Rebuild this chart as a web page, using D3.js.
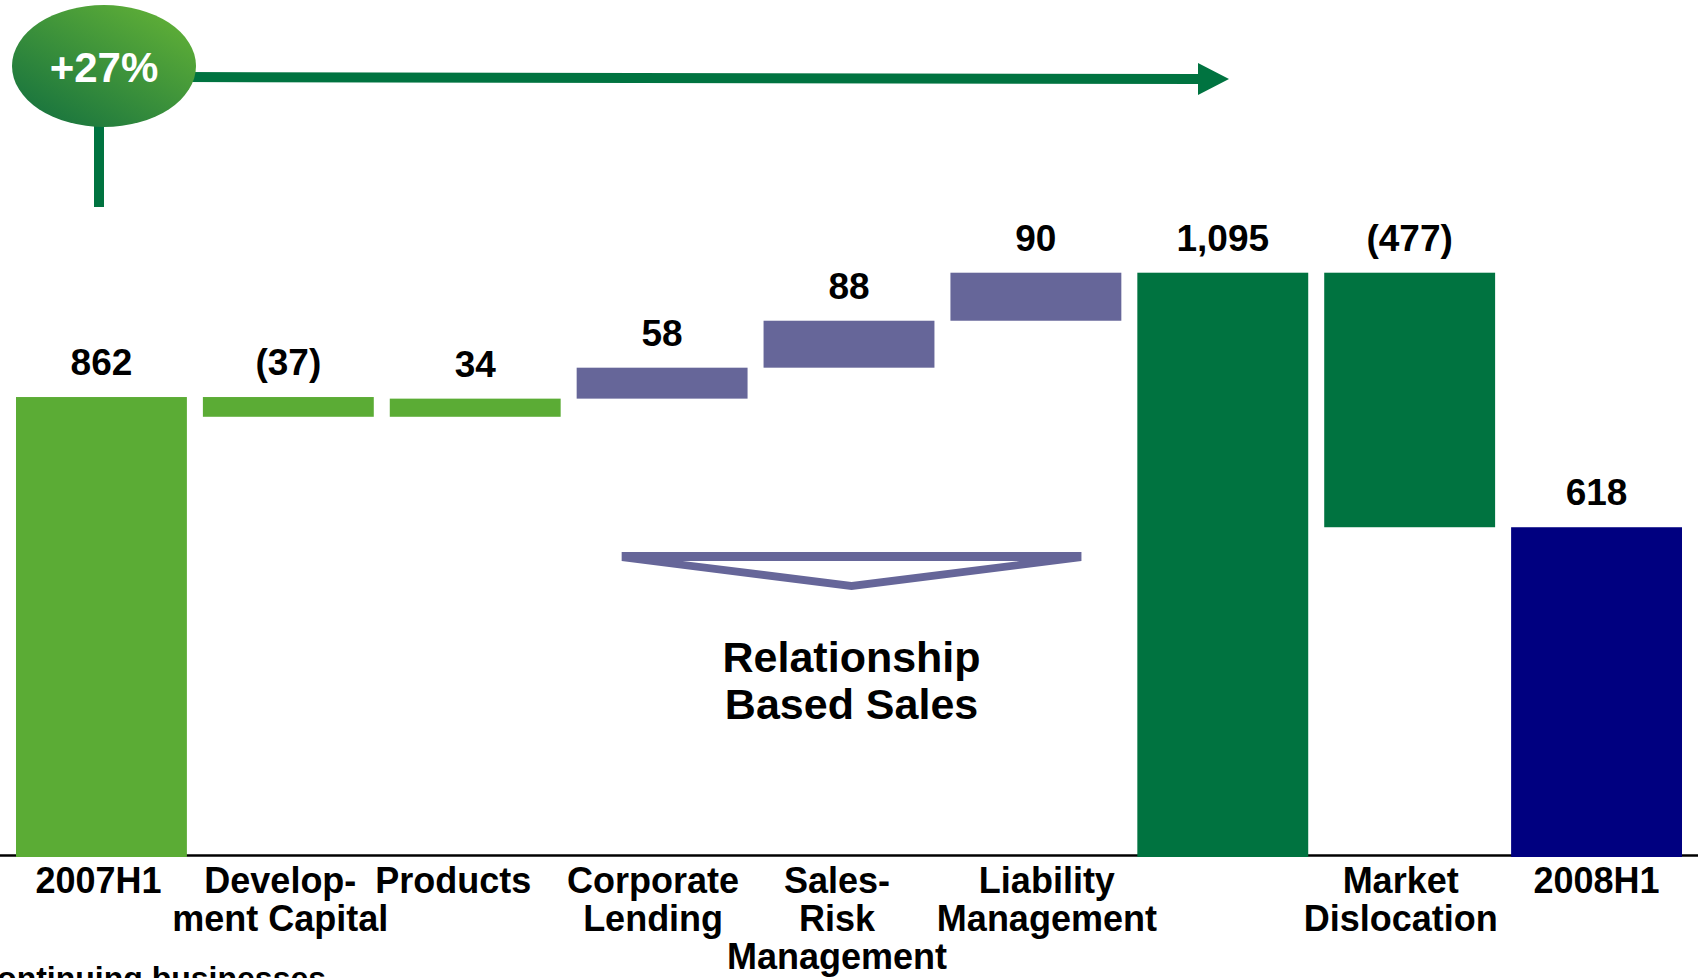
<!DOCTYPE html>
<html>
<head>
<meta charset="utf-8">
<title>Profit bridge 2007H1 to 2008H1</title>
<script src="https://cdn.jsdelivr.net/npm/d3@7/dist/d3.min.js"></script>
<style>
  html, body { margin: 0; padding: 0; background: #ffffff; }
  svg { display: block; }
  text { font-family: "Liberation Sans", Arial, Helvetica, sans-serif; font-weight: bold; }
</style>
</head>
<body>
<svg id="chart" width="1698" height="978"></svg>
<script>
// Bridge categories (line breaks mark the wrapped axis labels)
const categories = [
  "2007H1",
  "Develop-\nment Capital",
  "Products",
  "Corporate\nLending",
  "Sales-\nRisk\nManagement",
  "Liability\nManagement",
  "",
  "Market\nDislocation",
  "2008H1"
];
// Bar values: totals are absolute, the rest are changes
const values = [862, -37, 34, 58, 88, 90, 1095, -477, 618];
const barKinds = ["total", "delta", "delta", "delta", "delta", "delta", "total", "delta", "total"];
const segments = ["start", "other", "other", "rbs", "rbs", "rbs", "subtotal", "dislocation", "end"];
const growthLabel = "+27%";
const groupLabel = ["Relationship", "Based Sales"];
const footnote = "Continuing businesses";

// ---- layout & style ----
const W = 1698, H = 978;
const colours = {
  start: "#5BAC35", other: "#5BAC35",
  rbs: "#666699",
  subtotal: "#007340", dislocation: "#007340",
  end: "#000080"
};
const dark = "#007340";
const labelNudge = [-3, -8, -22, -9, -12, 11, 0, -9, 0];

const svg = d3.select("#chart");

const x = d3.scaleBand()
  .domain(categories)
  .range([16, 1682])
  .paddingInner(0.0856)
  .paddingOuter(0);

const y = d3.scaleLinear()
  .domain([0, 1100])
  .range([857, 857 - 1100 * 0.5336]);

// running totals for the waterfall
let running = 0;
const bars = categories.map((c, i) => {
  let lo, hi;
  if (barKinds[i] === "total") {
    lo = 0; hi = values[i]; running = values[i];
  } else {
    const start = running, end = running + values[i];
    lo = Math.min(start, end); hi = Math.max(start, end);
    running = end;
  }
  return { cat: c, value: values[i], lo, hi, seg: segments[i], i };
});

const fmt = v => v < 0 ? "(" + d3.format(",")(-v) + ")" : d3.format(",")(v);

// baseline
svg.append("line")
  .attr("x1", 0).attr("x2", W)
  .attr("y1", 855.5).attr("y2", 855.5)
  .attr("stroke", "#000").attr("stroke-width", 2.5);

// bars
svg.append("g").selectAll("rect")
  .data(bars)
  .join("rect")
  .attr("x", d => x(d.cat))
  .attr("width", x.bandwidth())
  .attr("y", d => y(d.hi))
  .attr("height", d => y(d.lo) - y(d.hi))
  .attr("fill", d => colours[d.seg]);

// value labels
svg.append("g").selectAll("text")
  .data(bars)
  .join("text")
  .attr("x", d => x(d.cat) + x.bandwidth() / 2)
  .attr("y", d => y(d.hi) - 22)
  .attr("text-anchor", "middle")
  .attr("font-size", 37)
  .attr("fill", "#000")
  .text(d => fmt(d.value));

// category labels
const cl = svg.append("g").selectAll("text")
  .data(bars)
  .join("text")
  .attr("text-anchor", "middle")
  .attr("font-size", 36)
  .attr("fill", "#000")
  .attr("transform", d => `translate(${x(d.cat) + x.bandwidth() / 2 + labelNudge[d.i]},893)`);
cl.selectAll("tspan")
  .data(d => d.cat.split("\n"))
  .join("tspan")
  .attr("x", 0)
  .attr("y", (t, j) => j * 38)
  .text(t => t);

// bracket under the relationship-based bars
const rbs = bars.filter(d => d.seg === "rbs");
const bx0 = x(rbs[0].cat) + 45;
const bx1 = x(rbs[rbs.length - 1].cat) + 131;
const bmid = (bx0 + bx1) / 2;
const bracket = d3.path();
bracket.moveTo(bx0, 552); bracket.lineTo(bx1, 552); bracket.lineTo(bx1, 561);
bracket.lineTo(bmid, 590); bracket.lineTo(bx0, 561); bracket.closePath();
bracket.moveTo(bx0 + 61, 561); bracket.lineTo(bmid, 582); bracket.lineTo(bx1 - 62, 561); bracket.closePath();
svg.append("path")
  .attr("d", bracket.toString())
  .attr("fill", colours.rbs)
  .attr("fill-rule", "evenodd");

svg.append("text")
  .attr("text-anchor", "middle")
  .attr("font-size", 43)
  .attr("fill", "#000")
  .selectAll("tspan")
  .data(groupLabel)
  .join("tspan")
  .attr("x", bmid)
  .attr("y", (t, j) => 672 + j * 47)
  .text(t => t);

// growth callout
const defs = svg.append("defs");
const grad = defs.append("linearGradient")
  .attr("id", "bubbleFill")
  .attr("x1", "15%").attr("y1", "90%")
  .attr("x2", "85%").attr("y2", "10%");
grad.append("stop").attr("offset", "0%").attr("stop-color", "#1B763E");
grad.append("stop").attr("offset", "100%").attr("stop-color", "#5DAD37");

svg.append("line")
  .attr("x1", 99).attr("x2", 99)
  .attr("y1", 110).attr("y2", 207)
  .attr("stroke", dark).attr("stroke-width", 10);

svg.append("line")
  .attr("x1", 185).attr("y1", 77)
  .attr("x2", 1200).attr("y2", 79)
  .attr("stroke", dark).attr("stroke-width", 10);

svg.append("path")
  .attr("d", d3.line()([[1198, 63], [1229, 79], [1198, 95]]) + "Z")
  .attr("fill", dark);

svg.append("ellipse")
  .attr("cx", 104).attr("cy", 66)
  .attr("rx", 92).attr("ry", 61)
  .attr("fill", "url(#bubbleFill)");

svg.append("text")
  .attr("x", 104).attr("y", 82)
  .attr("text-anchor", "middle")
  .attr("font-size", 42)
  .attr("fill", "#fff")
  .text(growthLabel);

// footnote, running off the bottom edge
svg.append("text")
  .attr("x", -26).attr("y", 989)
  .attr("font-size", 32)
  .attr("fill", "#000")
  .text(footnote);
</script>
</body>
</html>
